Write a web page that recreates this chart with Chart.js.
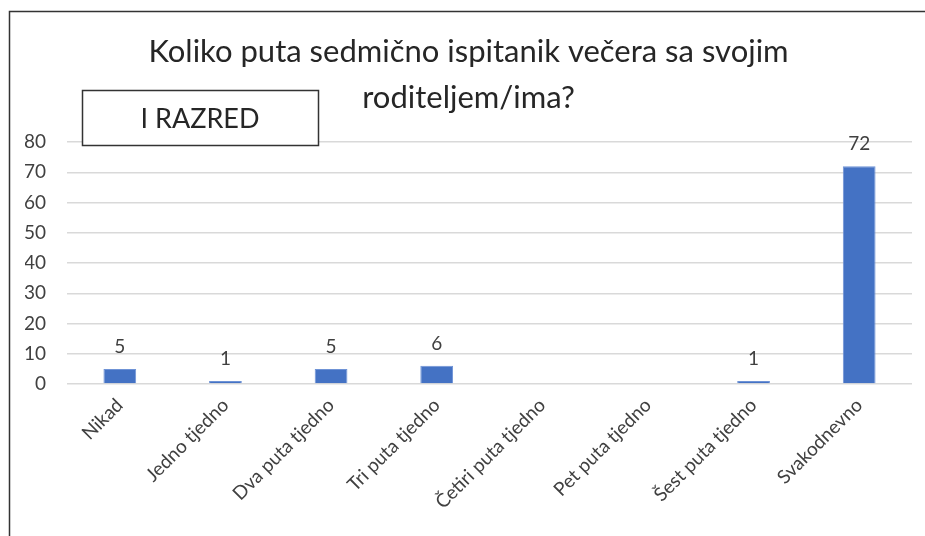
<!DOCTYPE html>
<html>
<head>
<meta charset="utf-8">
<script src="https://cdn.jsdelivr.net/npm/chart.js@4"></script>
<style>
  body { margin: 0; background: #fff; }
  #wrap { position: relative; width: 925px; height: 536px; }
</style>
</head>
<body>
<div id="wrap"><canvas id="chart" width="925" height="536"></canvas></div>
<script>
// data
const categories = ["Nikad", "Jedno tjedno", "Dva puta tjedno", "Tri puta tjedno",
    "Četiri puta tjedno", "Pet puta tjedno", "Šest puta tjedno", "Svakodnevno"];
const values = [5, 1, 5, 6, null, null, 1, 72];
const titleLines = ["Koliko puta sedmično ispitanik večera sa svojim", "roditeljem/ima?"];
const boxText = "I RAZRED";
const yTicks = [0, 10, 20, 30, 40, 50, 60, 70, 80];

const FONT = "Lato";

// value labels above the bars
const barLabels = {
    id: "barLabels",
    afterDatasetsDraw(chart) {
        const ctx = chart.ctx;
        const meta = chart.getDatasetMeta(0);
        ctx.save();
        ctx.font = "19px " + FONT;
        ctx.fillStyle = "#404040";
        ctx.textAlign = "center";
        ctx.textBaseline = "alphabetic";
        meta.data.forEach(function (bar, i) {
            if (values[i] == null) return;
            ctx.fillText(String(values[i]), bar.x, bar.y - 16);
        });
        ctx.restore();
    }
};

// outer frame and the "I RAZRED" box
const decor = {
    id: "decor",
    beforeDraw(chart) {
        const ctx = chart.ctx;
        ctx.save();
        ctx.strokeStyle = "#333";
        ctx.lineWidth = 1.5;
        ctx.beginPath();
        ctx.moveTo(9.5, 536);
        ctx.lineTo(9.5, 11.5);
        ctx.lineTo(925, 11.5);
        ctx.stroke();
        ctx.restore();
    },
    afterDraw(chart) {
        const ctx = chart.ctx;
        ctx.save();
        ctx.fillStyle = "#fff";
        ctx.fillRect(82, 90, 236, 55);
        ctx.strokeStyle = "#333";
        ctx.lineWidth = 1.5;
        ctx.strokeRect(82.5, 90.5, 236, 55);
        ctx.font = "27px " + FONT;
        ctx.fillStyle = "#262626";
        ctx.textAlign = "center";
        ctx.textBaseline = "middle";
        ctx.fillText(boxText, 200, 119);
        ctx.restore();
    }
};

new Chart(document.getElementById("chart"), {
    type: "bar",
    data: {
        labels: categories,
        datasets: [{
            data: values,
            backgroundColor: "#4472C4",
            borderColor: "#6f93d6",
            borderWidth: 1,
            barPercentage: 0.31,
            categoryPercentage: 1
        }]
    },
    options: {
        responsive: false,
        animation: false,
        layout: { padding: { top: 29, left: 25, right: 13, bottom: 0 } },
        plugins: {
            legend: { display: false },
            tooltip: { enabled: false },
            title: {
                display: true,
                text: titleLines,
                color: "#262626",
                font: { family: FONT, size: 31, weight: "normal", lineHeight: 46 / 31 },
                padding: { top: 0, bottom: 21 }
            }
        },
        scales: {
            x: {
                grid: { display: false, drawTicks: false },
                border: { display: false },
                afterFit(axis) { axis.paddingLeft = 0; axis.paddingRight = 0; axis.height = 152; },
                ticks: {
                    color: "#404040",
                    font: { family: FONT, size: 19 },
                    minRotation: 45,
                    maxRotation: 45,
                    padding: 10
                }
            },
            y: {
                min: 0,
                max: 80,
                afterBuildTicks(axis) { axis.ticks = yTicks.map(v => ({ value: v })); },
                afterFit(axis) { axis.width = 42; },
                grid: { color: "#d9d9d9", lineWidth: 1.5, drawTicks: false },
                border: { display: false },
                ticks: {
                    color: "#404040",
                    font: { family: FONT, size: 19 },
                    padding: 21
                }
            }
        }
    },
    plugins: [barLabels, decor]
});
</script>
</body>
</html>
